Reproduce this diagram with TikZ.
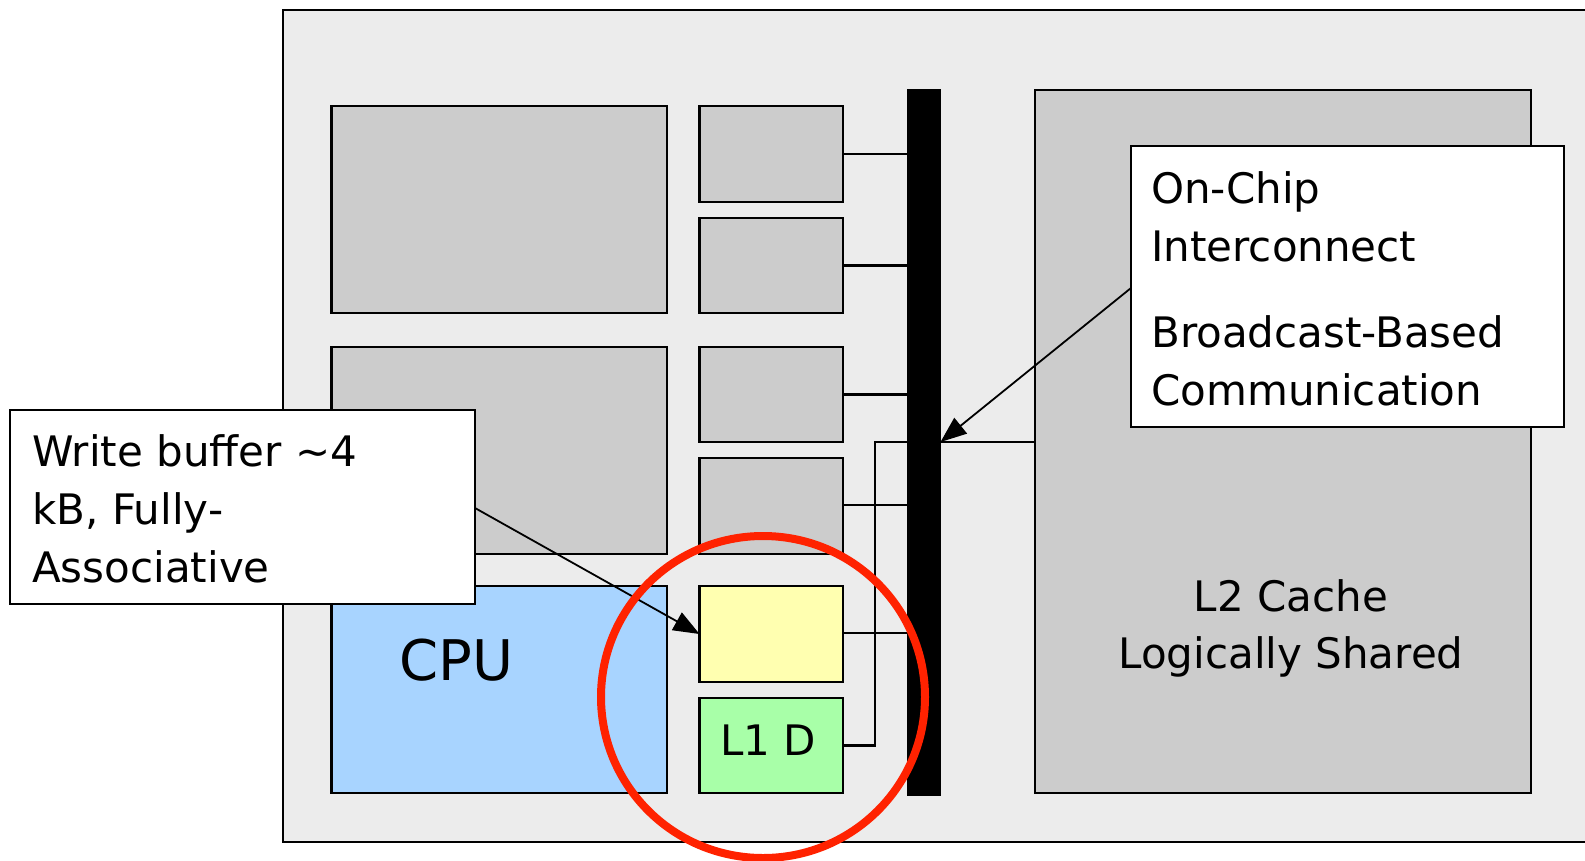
\documentclass[tikz,border=0pt]{standalone}
\usepackage{fontspec}
\setmainfont{DejaVu Sans}
\usetikzlibrary{arrows.meta,calc}
\definecolor{chipbg}{HTML}{ECECEC}
\definecolor{blockgray}{HTML}{CCCCCC}
\definecolor{cpublue}{HTML}{A8D4FF}
\definecolor{wbyellow}{HTML}{FFFFB0}
\definecolor{lonegreen}{HTML}{A8FFA8}
\definecolor{ringred}{HTML}{FF2200}
\tikzset{
  blk/.style={draw=black, line width=2.2pt, inner sep=0pt, outer sep=0pt},
  graybox/.style={blk, fill=blockgray},
  callout/.style={blk, fill=white},
  wire/.style={line width=2.2pt},
  pointer/.style={line width=1.8pt, -{Triangle[length=26pt,width=20pt]}},
  lbl/.style={inner sep=0pt, font=\fontsize{42}{58}\selectfont, align=left},
}
\begin{document}
\begin{tikzpicture}[x=1pt,y=-1pt]
\useasboundingbox (0,0) rectangle (1585,860);
% chip
\node[blk, fill=chipbg, minimum width=1310, minimum height=832, anchor=north west] (chip) at (283,10) {};
% big blocks
\node[graybox, minimum width=335.5, minimum height=207, anchor=north west] (big1) at (331.5,106) {};
\node[graybox, minimum width=335.5, minimum height=207, anchor=north west] (big2) at (331.5,347) {};
\node[blk, fill=cpublue, minimum width=335.5, minimum height=207, anchor=north west] (cpu) at (331.5,586) {};
% small blocks
\node[graybox, minimum width=143.5, minimum height=96, anchor=north west] (s1) at (699.5,106) {};
\node[graybox, minimum width=143.5, minimum height=95, anchor=north west] (s2) at (699.5,218) {};
\node[graybox, minimum width=143.5, minimum height=95, anchor=north west] (s3) at (699.5,347) {};
\node[graybox, minimum width=143.5, minimum height=96, anchor=north west] (s4) at (699.5,458) {};
\node[blk, fill=wbyellow, minimum width=143.5, minimum height=96, anchor=north west] (wb) at (699.5,586) {};
\node[blk, fill=lonegreen, minimum width=143.5, minimum height=95, anchor=north west] (l1d) at (699.5,698) {};
% bus bar
\node[draw=black, fill=black, line width=0.5pt, inner sep=0pt, minimum width=33, minimum height=706, anchor=north west] (bar) at (907,89) {};
% L2
\node[graybox, minimum width=496, minimum height=703, anchor=north west] (l2) at (1035,90) {};
% connectors to bus
\coordinate (j) at (875,442);
\draw[wire] (s1.east) -- (s1.east -| bar.west);
\draw[wire] (s2.east) -- (s2.east -| bar.west);
\draw[wire] (s3.east) -- (s3.east -| bar.west);
\draw[wire] ($(s4.east)+(0,-1)$) -- ($(s4.east -| bar.west)+(0,-1)$);
\draw[wire] ($(wb.east)+(0,-1)$) -- ($(wb.east -| bar.west)+(0,-1)$);
\draw[wire] (l1d.east) -| (j) -- (j -| bar.west);
\draw[wire] (j -| bar.east) -- (j -| l2.west);
% texts
\node[lbl, anchor=base west] (cputext) at (399,680) {\fontsize{56}{60}\selectfont CPU};
\node[lbl, anchor=base west] (l1dtext) at (720,755) {L1 D};
\node[lbl, anchor=base, align=center] (l2text) at (1291,611) {L2 Cache};
\node[lbl, anchor=base, align=center] (l2text2) at (1291,668) {Logically Shared};
% callouts
\node[callout, minimum width=433, minimum height=281, anchor=north west] (oncb) at (1131,146) {};
\node[lbl, anchor=base west] (onc1) at (1151,261) {On-Chip\\Interconnect};
\node[lbl, anchor=base west] (onc2) at (1151,405) {Broadcast-Based\\Communication};
\node[callout, minimum width=465, minimum height=194, anchor=north west] (wbb) at (10,410) {};
\node[lbl, anchor=base west] (wbt) at (32,582) {Write buffer \textasciitilde 4\\kB, Fully-\\Associative};
% pointers
\draw[pointer] (oncb.west |- 0,288) -- (j -| bar.east);
\draw[pointer] (wbb.east |- 0,508) -- (wb.west |- 0,634);
% highlight ring
\draw[ringred, line width=8pt] (763,697) ellipse (162 and 161);
\end{tikzpicture}
\end{document}
